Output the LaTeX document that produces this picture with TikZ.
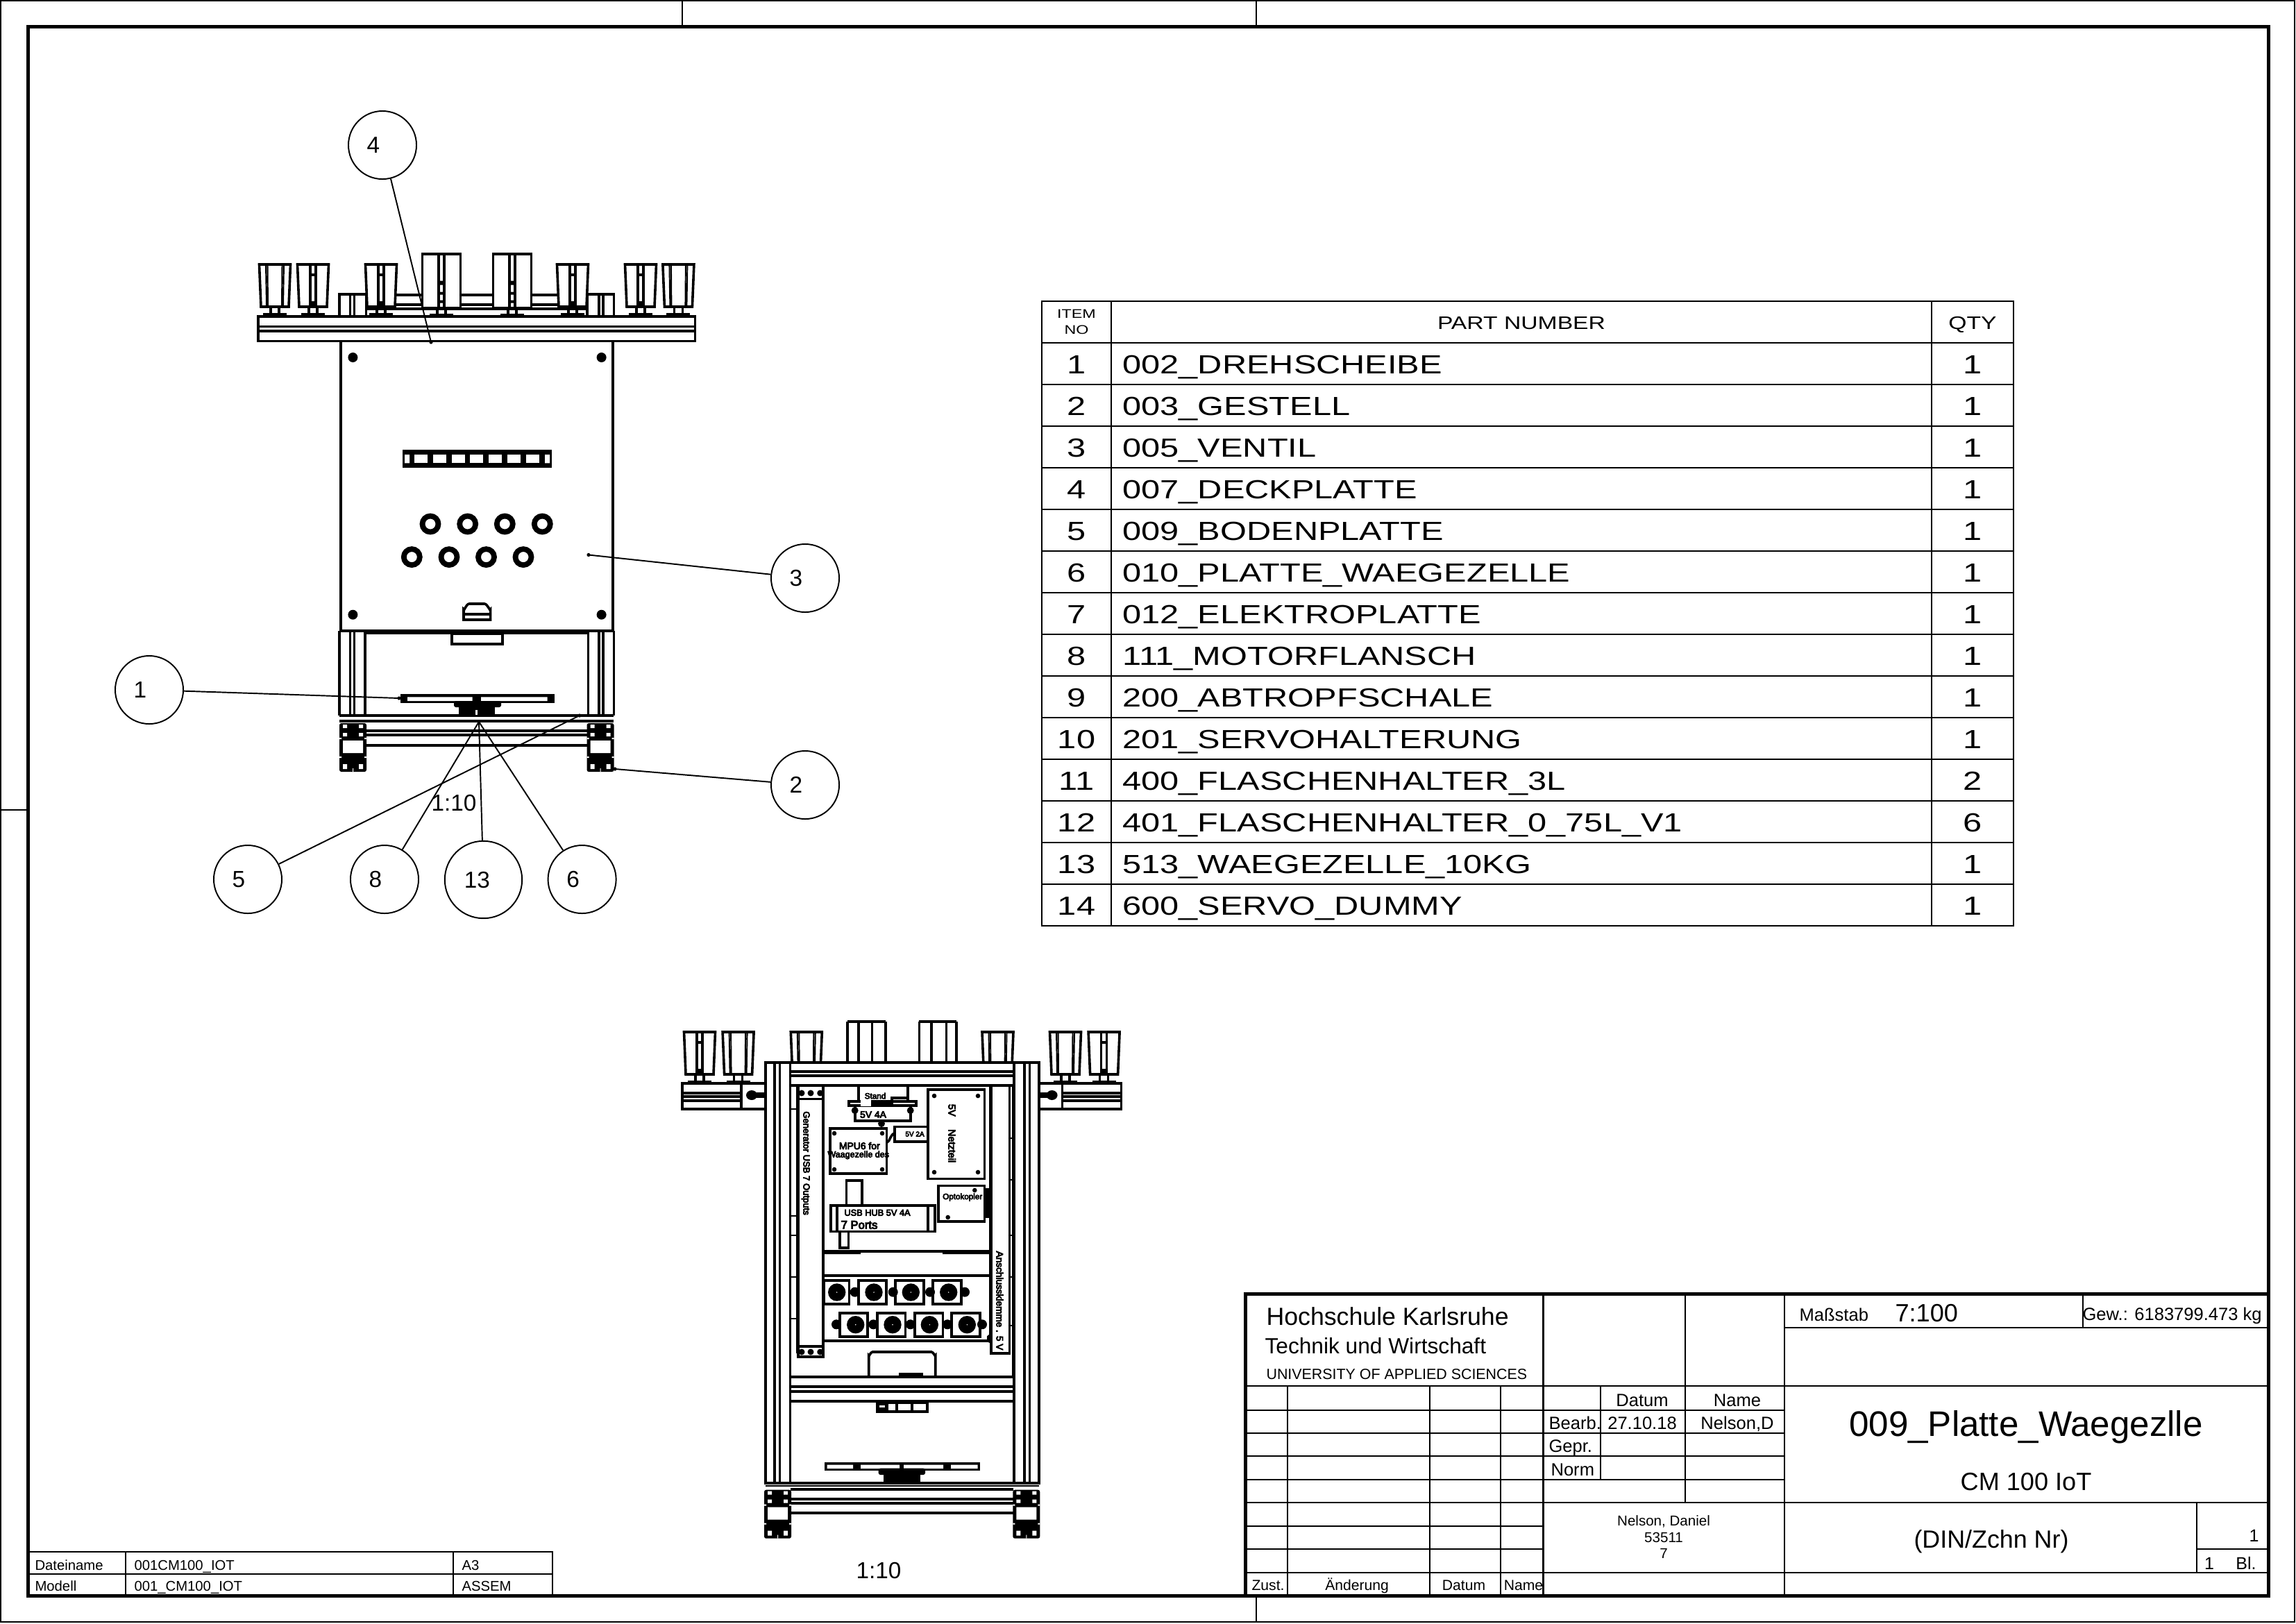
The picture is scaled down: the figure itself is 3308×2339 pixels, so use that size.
\documentclass[tikz,border=0pt]{standalone}
\usepackage{fontspec}
\setmainfont{Liberation Sans}
\newfontfamily\widefont[FakeStretch=1.29]{Liberation Sans}
\newfontfamily\blobfont[FakeBold=6]{Liberation Sans}

\newcommand{\fs}[1]{\fontsize{#1}{#1}\selectfont}

\tikzset{
  part/.style={line width=1.3pt},
  thinpart/.style={line width=0.7pt},
  frameline/.style={line width=1.8pt},
  tableline/.style={line width=0.7pt},
  tablethick/.style={line width=0.9pt},
  leader/.style={line width=0.7pt},
  balloon/.style={draw, circle, line width=0.7pt, minimum size=35.3pt, inner sep=0pt,
    font=\fs{12}, execute at end node={\hspace{#1}}},
  balloon/.default=9.4pt,
  tb/.style={inner sep=0pt, text height=0.72em, text depth=0pt},
  blob/.style={inner sep=0pt, font=\blobfont\fs{5}},
  bom/.style={inner sep=0pt, font=\widefont\fs{13.6}},
  bomhead/.style={inner sep=0pt, font=\widefont\fs{9.4}}
}

% flask holders, centre x and top y
\newcommand{\holderbody}[2]{
  \draw[part,fill=white] (#1-22.5,#2) -- (#1+22.5,#2) -- (#1+20,#2+61) -- (#1-20,#2+61) -- cycle;
  \draw[part] (#1-6,#2+61) -- (#1-6,#2+70) (#1+6,#2+61) -- (#1+6,#2+70);
  \fill (#1-17,#2+70) rectangle (#1+17,#2+75);
}
\newcommand{\holderslot}[2]{
  \holderbody{#1}{#2}
  \draw[part] (#1-4,#2) -- (#1-4,#2+61) (#1+4,#2) -- (#1+4,#2+61) (#1-4,#2+15) -- (#1+4,#2+15);
  \fill (#1-4,#2+53) rectangle (#1+4,#2+61);
}
\newcommand{\holderside}[2]{
  \holderbody{#1}{#2}
  \draw[thinpart] (#1-13,#2) -- (#1-12,#2+61) (#1-10.5,#2) -- (#1-10,#2+61)
    (#1+13,#2) -- (#1+12,#2+61) (#1+10.5,#2) -- (#1+10,#2+61);
}
\newcommand{\holderbig}[2]{
  \draw[part,fill=white] (#1-27.5,#2) rectangle (#1+27.5,#2+78);
  \draw[part] (#1-4,#2) -- (#1-4,#2+78) (#1+4,#2) -- (#1+4,#2+78);
  \fill (#1-4,#2+39) rectangle (#1+4,#2+45) (#1-4,#2+55) rectangle (#1+4,#2+59)
    (#1-4,#2+67) rectangle (#1+4,#2+71);
  \draw[part] (#1-6,#2+78) -- (#1-6,#2+86) (#1+6,#2+78) -- (#1+6,#2+86);
  \fill (#1-17,#2+86) rectangle (#1+17,#2+91);
}
% end section of an aluminium profile, left x and top y
\newcommand{\profileend}[2]{
  \fill[rounded corners=1pt] (#1,#2) rectangle (#1+39,#2+70);
  \fill[white] (#1+5,#2+2) rectangle (#1+11,#2+7) (#1+28,#2+2) rectangle (#1+34,#2+7)
    (#1+5,#2+14) rectangle (#1+11,#2+19) (#1+28,#2+14) rectangle (#1+34,#2+19)
    (#1+5,#2+25) rectangle (#1+34,#2+43)
    (#1+5,#2+59) rectangle (#1+11,#2+66) (#1+28,#2+59) rectangle (#1+34,#2+66)
    (#1,#2+21) rectangle (#1+3,#2+23) (#1+36,#2+21) rectangle (#1+39,#2+23)
    (#1,#2+48) rectangle (#1+3,#2+50) (#1+36,#2+48) rectangle (#1+39,#2+50)
    (#1+19,#2+65) rectangle (#1+20,#2+70);
}
% terminal on the plate, left x, top y, width, disc x
\newcommand{\terminalblock}[4]{
  \draw[part,fill=white] (#1,#2) rectangle (#1+#3,#2+34);
  \fill (#4,#2+17) circle (12.7);
  \fill[white] (#4,#2+17) circle (0.8);
}

\begin{document}
\begin{tikzpicture}[x=0.36pt,y=-0.36pt]
  \useasboundingbox (0,0) rectangle (3308,2339);
  \fill[white] (0,0) rectangle (3308,2339);

  % sheet
  \draw[thinpart] (1,1) rectangle (3306,2337);
  \draw[frameline] (40,38.5) rectangle (3268,2299);
  \draw[thinpart] (983,1) -- (983,38.5) (1810,1) -- (1810,38.5) (1,1167) -- (40,1167);
  \draw[tablethick] (1810,2299) -- (1810,2337);

  % first view: back of the top
  \draw[part,fill=white] (527.5,425) rectangle (846,445);
  \draw[part] (527.5,439) -- (846,439);
  \foreach \x/\d in {489/1,884.4/-1}{
    \draw[part,fill=white] (\x,424) rectangle (\x+\d*38.5,456);
    \draw[part] (\x+\d*15.6,424) -- (\x+\d*15.6,456) (\x+\d*21.3,424) -- (\x+\d*21.3,456);
  }
  \holderside{396}{381}
  \holderslot{451}{381}
  \holderslot{549}{381}
  \holderslot{825}{381}
  \holderslot{923}{381}
  \holderside{977.4}{381}
  \holderbig{636}{365.7}
  \holderbig{738}{365.7}
  \draw[part,fill=white] (372,456) rectangle (1001.4,491.5);
  \draw[part] (372,470.5) -- (1001.4,470.5) (372,477) -- (1001.4,477);

  % first view: plate
  \draw[part,fill=white] (491,491.5) rectangle (883,909);
  \foreach \x in {508.4,866.6}{
    \foreach \y in {515,885.7}{
      \fill (\x,\y) circle (7);
    }
  }
  \fill (579.6,647.6) rectangle (795.4,674);
  \foreach \x in {596.5,623.5,650.5,677,704,731,757.5}{
    \fill[white] (\x,655) rectangle (\x+19,667.4);
  }
  \fill[white] (583,655) rectangle (590,667.4) (785,655) rectangle (792,667.4);
  \foreach \x in {620,673.7,727.3,781.3}{
    \draw[line width=2.8pt] (\x,755) circle (11.5);
  }
  \foreach \x in {593.3,647,700.5,754}{
    \draw[line width=2.8pt] (\x,802.6) circle (11.5);
  }
  \draw[part] (668,893) -- (668,878) to[out=-90,in=180] (676,870) -- (698,870) to[out=0,in=-90] (706.6,878) -- (706.6,893) -- cycle;
  \draw[part] (668,885) -- (706.6,885);

  % first view: frame
  \draw[line width=2pt] (527,911.6) -- (846,911.6);
  \draw[part] (651,913) rectangle (724,928);
  \foreach \x/\d in {489/1,884.4/-1}{
    \draw[part] (\x,909) -- (\x,1031) (\x+\d*15.6,909) -- (\x+\d*15.6,1031)
      (\x+\d*21.3,909) -- (\x+\d*21.3,1031) (\x+\d*37,909) -- (\x+\d*37,1031);
  }
  \draw[part] (489,1031) -- (884,1031) (489,1039) -- (884,1039);
  \draw[part] (527,1052.7) -- (846,1052.7) (527,1059) -- (846,1059) (527,1074) -- (846,1074);
  \profileend{489}{1042}
  \profileend{845.5}{1042}
  \fill (576.5,1000) rectangle (798.5,1013);
  \fill[white] (587,1004.3) rectangle (680.6,1010) (693,1004.3) rectangle (788.5,1010);
  \fill[rounded corners=1pt] (654,1010) rectangle (722,1019);
  \fill (660.7,1019) rectangle (713,1030);
  \fill[white] (685,1023) rectangle (688,1030);

  % second view: holders
  \holderslot{1008}{1487}
  \holderside{1063.6}{1487}
  \holderside{1161.8}{1487}
  \holderside{1437.5}{1487}
  \holderside{1535}{1487}
  \holderslot{1590.6}{1487}
  \foreach \x in {1220.7,1236.8,1256.4,1276,1324.3,1342,1363.6,1377.9}{
    \draw[part] (\x,1472) -- (\x,1531);
  }
  \draw[part] (1220.7,1472) -- (1276,1472) (1324.3,1472) -- (1377.9,1472);

  % second view: side rails
  \foreach \x/\d in {983/1,1615.6/-1}{
    \draw[part,fill=white] (\x,1561) rectangle (\x+\d*120,1598);
    \draw[part] (\x,1575) -- (\x+\d*85,1575) (\x,1580) -- (\x+\d*85,1580) (\x,1586) -- (\x+\d*85,1586);
    \draw[part] (\x+\d*85,1561) -- (\x+\d*85,1598);
    \fill (\x+\d*100,1578) ellipse (8 and 7);
    \fill (\x+\d*100,1574) rectangle (\x+\d*120,1582);
  }

  % second view: mounting plate
  \draw[part,fill=white] (1138.6,1564) rectangle (1460,1984);
  \draw[part] (1185,1564) -- (1185,1931.7) (1427,1564) -- (1427,1932);
  \draw[part] (1149,1564) -- (1149,1950) (1454.6,1564) -- (1454.6,1950);
  \draw[thinpart] (1138.6,1598) -- (1149,1598) (1138.6,1752) -- (1149,1752)
    (1138.6,1780) -- (1149,1780) (1138.6,1840) -- (1149,1840) (1138.6,1900) -- (1149,1900)
    (1454.6,1640) -- (1460,1640) (1454.6,1700) -- (1460,1700) (1454.6,1780) -- (1460,1780)
    (1454.6,1840) -- (1460,1840) (1454.6,1910) -- (1460,1910);
  \fill (1185,1802) rectangle (1240,1807) (1358,1802) rectangle (1427,1807);
  \draw[part] (1185,1803) -- (1427,1803) (1185,1838) -- (1427,1838) (1185,1931.7) -- (1427,1931.7);

  % modules on the plate
  \draw[part,fill=white] (1150,1564) rectangle (1186,1955);
  \draw[part] (1150,1583.3) -- (1186,1583.3) (1150,1940) -- (1186,1940);
  \foreach \x in {1155,1168,1181.7}{
    \fill (\x,1575) circle (4.5);
    \fill (\x,1948) circle (4.5);
  }
  \node[blob,rotate=-90,font=\blobfont\fs{4.7}] (moduleio) at (1160.7,1676) {Generator USB 7 Outputs};

  \draw[part,fill=white] (1236.7,1564) rectangle (1308,1588);
  \draw[part,fill=white] (1223,1586.7) rectangle (1320,1593);
  \draw[part,fill=white] (1231.7,1593) rectangle (1311.7,1615);
  \fill (1231.7,1600) circle (5) (1311.7,1600) circle (5) (1270,1619) circle (5);
  \fill[white] (1240,1582) rectangle (1255,1594);
  \draw[part] (1255,1590) -- (1285,1590) -- (1285,1582) -- (1308,1582);
  \node[blob,font=\blobfont\fs{4.2}] (modulestand) at (1261,1579) {Stand};
  \node[blob] (modulefive) at (1258,1606) {5V 4A};

  \draw[part,fill=white] (1196,1626) rectangle (1277.3,1691);
  \foreach \x in {1202,1271}{
    \foreach \y in {1633,1685}{
      \fill (\x,\y) circle (3.3);
    }
  }
  \node[blob] (modulempu) at (1238.3,1651) {MPU6 for};
  \node[blob,font=\blobfont\fs{4.5}] (modulewaage) at (1236.7,1664.3) {Waagezelle des};

  \draw[part,fill=white] (1289,1623.3) rectangle (1336.7,1645);
  \draw[part] (1280,1643) to[out=-90,in=180] (1289,1633);
  \fill[white] (1292,1627) rectangle (1298,1642);
  \node[blob,font=\blobfont\fs{3.6}] (modulesmall) at (1318,1634) {5V 2A};

  \draw[part,fill=white] (1336.7,1570) rectangle (1418.3,1698.3);
  \foreach \x in {1346,1409}{
    \foreach \y in {1579,1689}{
      \fill (\x,\y) circle (3.3);
    }
  }
  \node[blob,rotate=-90,font=\blobfont\fs{5.2}] (modulepower) at (1371.7,1633) {5V \quad Netzteil};

  \fill (1416,1711.7) rectangle (1428,1755);
  \draw[part,fill=white] (1351.7,1708.3) rectangle (1418.3,1760);
  \fill (1404.3,1715) circle (3.3) (1365.7,1754) circle (3.3);
  \node[blob,font=\blobfont\fs{4.2}] (moduleopto) at (1386.7,1725) {Optokopler};

  \draw[part,fill=white] (1219.3,1701) rectangle (1241.7,1736.7);
  \draw[part,fill=white] (1210,1774.3) rectangle (1222.3,1798);
  \draw[part,fill=white] (1196.7,1736.7) rectangle (1346.7,1774.3);
  \draw[part] (1206,1736.7) -- (1206,1774.3) (1337,1736.7) -- (1337,1774.3);
  \node[blob,font=\blobfont\fs{4.6}] (moduleusb) at (1264,1747.3) {USB HUB 5V 4A};
  \node[blob,font=\blobfont\fs{6}] (moduleports) at (1238,1765) {7 Ports};

  \draw[part,fill=white] (1428,1564) rectangle (1454.6,1950);
  \draw[part] (1428,1923) -- (1424,1926) -- (1424,1932) -- (1428,1934);
  \node[blob,rotate=-90,font=\blobfont\fs{4.9}] (moduleclamp) at (1440.5,1874) {Anschlussklemme . 5 V};

  % terminals
  \foreach \x/\w/\c in {1186.7/36.6/1205.7,1236.7/40/1259,1290/40.7/1312.3,1344/41/1366.7}{
    \terminalblock{\x}{1845}{\w}{\c}
  }
  \foreach \x/\w/\c in {1210/40/1232.7,1264/40.3/1286,1317.7/40.6/1339.3,1371/40.7/1393.3}{
    \terminalblock{\x}{1891.7}{\w}{\c}
  }
  \foreach \x in {1231.7,1286.7,1340,1390}{
    \fill (\x,1861.7) circle (7);
  }
  \foreach \x in {1205,1258.3,1311.7,1365,1415}{
    \fill (\x,1908.3) circle (7);
  }

  % second view: frame
  \draw[part] (1251.7,1984) -- (1251.7,1953) to[out=-90,in=180] (1257,1948) -- (1342,1948) to[out=0,in=-90] (1347.7,1953) -- (1347.7,1984);
  \fill (1295,1978) rectangle (1330,1982);
  \draw[part,fill=white] (1103,1530.7) rectangle (1497.5,1564);
  \foreach \x/\d in {1102.7/1,1496.7/-1}{
    \draw[part,fill=white] (\x,1530.7) rectangle (\x+\d*35.6,2137);
    \draw[part] (\x+\d*13.3,1530.7) -- (\x+\d*13.3,2137) (\x+\d*20.6,1530.7) -- (\x+\d*20.6,2137);
  }
  \draw[part] (1138.6,1544) -- (1461,1544) (1138.6,1550) -- (1461,1550);
  \draw[part] (1139,1984) -- (1460,1984) (1139,1998) -- (1460,1998) (1139,2005) -- (1460,2005) (1139,2019) -- (1460,2019);
  \draw[part,fill=white] (1263.3,2020.7) rectangle (1336,2034);
  \fill (1263.3,2020.7) rectangle (1280,2034);
  \fill[white] (1267,2025) rectangle (1275,2028);
  \draw[part] (1292,2020.7) -- (1292,2034) (1314,2020.7) -- (1314,2034);
  \draw[part] (1103,2136.7) -- (1497,2136.7) (1139,2145.7) -- (1460,2145.7);
  \draw[thinpart] (1103,2141) -- (1497,2141);
  \draw[part] (1139,2160) -- (1460,2160) (1139,2165.7) -- (1460,2165.7) (1139,2180) -- (1460,2180);
  \profileend{1101}{2146.7}
  \profileend{1459.3}{2146.7}
  \fill (1188.3,2106.7) rectangle (1411.7,2119);
  \fill[white] (1191.5,2110.5) rectangle (1229,2116) (1240,2110.5) rectangle (1296,2116)
    (1302,2110.5) rectangle (1359,2116) (1370,2110.5) rectangle (1408.5,2116);
  \fill[rounded corners=1pt] (1265.7,2115.7) rectangle (1333,2125);
  \fill (1273.3,2125) rectangle (1325.7,2136);

  % balloons
  \node[balloon] (b1) at (215,994) {1};
  \node[balloon] (b2) at (1160,1131) {2};
  \node[balloon] (b3) at (1160,833) {3};
  \node[balloon] (b4) at (551,209) {4};
  \node[balloon] (b5) at (357,1267) {5};
  \node[balloon] (b6) at (838.6,1267) {6};
  \node[balloon] (b8) at (554,1267) {8};
  \node[balloon=6.5pt,minimum size=40.1pt] (b13) at (696.5,1267.5) {13};
  \coordinate (t1) at (575,1006);
  \coordinate (t2) at (886,1108);
  \coordinate (t3) at (848,799.5);
  \coordinate (t4) at (621,493);
  \coordinate (t5) at (835,1031);
  \coordinate (t6) at (690,1040);
  \foreach \b/\t in {b1/t1,b2/t2,b3/t3,b4/t4,b5/t5,b6/t6,b8/t6,b13/t6}{
    \draw[leader] (\b) -- (\t);
  }
  \foreach \t in {t1,t2,t3,t4,t5,t6}{
    \fill (\t) circle (2.6);
  }
  \node[tb,font=\fs{12}] (scaleone) at (654,1158) {1:10};
  \node[tb,font=\fs{12}] (scaletwo) at (1266,2264) {1:10};

  % parts list
  \draw[tablethick] (1501,434) rectangle (2901,1334);
  \draw[tablethick] (1601,434) -- (1601,1334) (2783,434) -- (2783,1334) (1501,494) -- (2901,494);
  \node[bomhead,font=\widefont\fs{6.5},align=center] (itemhead) at (1551,464) {ITEM\\[1.7pt]NO};
  \node[bomhead,tb] (parthead) at (2192,464) {PART NUMBER};
  \node[bomhead,tb] (qtyhead) at (2842,464) {QTY};
  \foreach \n/\pname/\q in {1/002\_DREHSCHEIBE/1,2/003\_GESTELL/1,3/005\_VENTIL/1,4/007\_DECKPLATTE/1,
      5/009\_BODENPLATTE/1,6/010\_PLATTE\_WAEGEZELLE/1,7/012\_ELEKTROPLATTE/1,8/111\_MOTORFLANSCH/1,
      9/200\_ABTROPFSCHALE/1,10/201\_SERVOHALTERUNG/1,11/400\_FLASCHENHALTER\_3L/2,
      12/401\_FLASCHENHALTER\_0\_75L\_V1/6,13/513\_WAEGEZELLE\_10KG/1,14/600\_SERVO\_DUMMY/1}{
    \draw[tablethick] (1501,494+60*\n) -- (2901,494+60*\n);
    \node[bom,anchor=base] (item\n) at (1551,478+60*\n) {\n};
    \node[bom,anchor=base west] (part\n) at (1617,478+60*\n) {\pname};
    \node[bom,anchor=base] (qty\n) at (2842,478+60*\n) {\q};
  }

  % file table
  \draw[tablethick] (40,2236) -- (796,2236) -- (796,2299) (40,2268) -- (796,2268) (181,2236) -- (181,2299) (653,2236) -- (653,2299);
  \foreach \x/\y/\txt [count=\i] in {50/2252/Dateiname,193/2252/001CM100\_IOT,665/2252/A3,50/2282/Modell,193/2282/001\_CM100\_IOT,665/2282/ASSEM}{
    \node[tb,font=\fs{7.3},anchor=west] (file\i) at (\x,\y) {\txt};
  }

  % title block
  \draw[frameline] (1794,2299) -- (1794,1864) -- (3268,1864);
  \draw[tablethick] (1794,1997) -- (3268,1997) (1794,2165) -- (3268,2165);
  \draw[tableline] (2571,1913) -- (3268,1913) (1794,2266) -- (3268,2266) (3165,2232) -- (3268,2232);
  \foreach \y in {2032,2065,2098,2132}{
    \draw[tableline] (1794,\y) -- (2571,\y);
  }
  \foreach \y in {2199,2232}{
    \draw[tableline] (1794,\y) -- (2223.5,\y);
  }
  \foreach \x in {1855,2060,2162}{
    \draw[tableline] (\x,1997) -- (\x,2299);
  }
  \draw[tablethick] (2223.5,1864) -- (2223.5,2299);
  \draw[tablethick] (2571,1864) -- (2571,2299);
  \draw[tableline] (2428,1864) -- (2428,2165) (2306,1997) -- (2306,2132) (3001,1864) -- (3001,1913) (3165,2165) -- (3165,2266);

  \node[tb,font=\fs{12.85},anchor=west] (school) at (1824,1899) {Hochschule Karlsruhe};
  \node[tb,font=\fs{11.4},anchor=west] (schooltwo) at (1822,1940) {Technik und Wirtschaft};
  \node[tb,font=\fs{7.7},anchor=west] (schoolthree) at (1824,1977) {UNIVERSITY OF APPLIED SCIENCES};
  \node[tb,font=\fs{9.2},anchor=west] (scalehead) at (2592,1893) {Maßstab};
  \node[tb,font=\fs{13},anchor=west] (scalevalue) at (2730,1894) {7:100};
  \node[tb,font=\fs{9.2},anchor=west] (weight) at (3000,1892) {Gew.: 6183799.473 kg};
  \node[tb,font=\fs{9.2}] (datehead) at (2366,2016) {Datum};
  \node[tb,font=\fs{9.2}] (namehead) at (2503,2016) {Name};
  \node[tb,font=\fs{9.2},anchor=west] (bearb) at (2231,2049) {Bearb.};
  \node[tb,font=\fs{9.2}] (bearbdate) at (2366,2049) {27.10.18};
  \node[tb,font=\fs{9.2}] (bearbname) at (2503,2049) {Nelson,D};
  \node[tb,font=\fs{9.2},anchor=west] (gepr) at (2231,2082) {Gepr.};
  \node[tb,font=\fs{9.2},anchor=west] (norm) at (2234,2116) {Norm};
  \node[tb,font=\fs{7.6}] (zust) at (1827,2281) {Zust.};
  \node[tb,font=\fs{7.6}] (aenderung) at (1955,2281) {Änderung};
  \node[tb,font=\fs{7.6}] (zustdate) at (2109,2281) {Datum};
  \node[tb,font=\fs{7.6}] (zustname) at (2195,2281) {Name};
  \node[tb,font=\fs{7.4}] (ownerone) at (2397,2188) {Nelson, Daniel};
  \node[tb,font=\fs{7.4}] (ownertwo) at (2397,2212) {53511};
  \node[tb,font=\fs{7.4}] (ownerthree) at (2397,2235) {7};
  \node[tb,font=\fs{18.4}] (drawingname) at (2919,2059) {009\_Platte\_Waegezlle};
  \node[tb,font=\fs{13}] (machine) at (2919,2137) {CM 100 IoT};
  \node[tb,font=\fs{12.9}] (din) at (2869,2220) {(DIN/Zchn Nr)};
  \node[tb,font=\fs{9},anchor=east] (sheetno) at (3255,2211) {1};
  \node[tb,font=\fs{9}] (sheetcount) at (3183,2251) {1};
  \node[tb,font=\fs{9}] (sheetlabel) at (3236,2251) {Bl.};
\end{tikzpicture}
\end{document}
